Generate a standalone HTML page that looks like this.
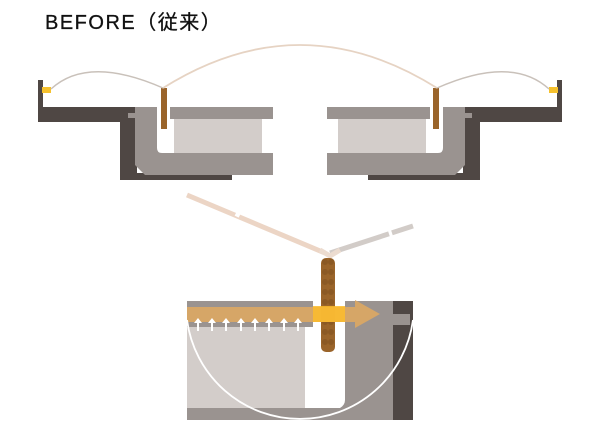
<!DOCTYPE html>
<html><head><meta charset="utf-8"><style>
html,body{margin:0;padding:0;background:#fff;width:600px;height:435px;overflow:hidden}
.t{position:absolute;left:45px;top:6px;font:20px "Liberation Sans","Noto Sans CJK JP",sans-serif;color:#111;letter-spacing:1.5px;-webkit-text-stroke:0.3px #111}
</style></head><body>
<div class="t">BEFORE（従来）</div>
<svg width="600" height="435" style="position:absolute;left:0;top:0">
<defs>
<g id="half">
  <rect x="38" y="80" width="5" height="42" fill="#4f4744"/>
  <rect x="38" y="107" width="99" height="15" fill="#4f4744"/>
  <rect x="120" y="107" width="17" height="73" fill="#4f4744"/>
  <rect x="120" y="173" width="112" height="7" fill="#4f4744"/>
  <rect x="42" y="87" width="9" height="6" fill="#f5c12e"/>
  <rect x="128" y="113" width="8" height="5" fill="#9a9390"/>
  <path d="M135 107 H157 V148 Q157 153 162 153 H273 V175 H145 L135 165 Z" fill="#9a9390"/>
  <rect x="170" y="107" width="103" height="12" fill="#9a9390"/>
  <rect x="174" y="119" width="88" height="34" fill="#d3cdca"/>
  <rect x="161" y="88" width="6" height="41" fill="#9a642a"/>
  <path d="M51 89 Q88 55 163 88" fill="none" stroke="#c9c1ba" stroke-width="1.5"/>
</g>
</defs>
<use href="#half"/>
<use href="#half" transform="translate(600,0) scale(-1,1)"/>
<path d="M163 88 Q300 2 437 88" fill="none" stroke="#e6d3c3" stroke-width="1.8"/>

<rect x="187" y="408" width="226" height="12" fill="#9a9390"/>
<rect x="187" y="327" width="118" height="81" fill="#d3cdca"/>
<rect x="187" y="301" width="126" height="26" fill="#9a9390"/>
<path d="M345 301 H393 V408 H340 Q345 405 345 400 Z" fill="#9a9390"/>
<rect x="393" y="301" width="20" height="119" fill="#4f4744"/>
<rect x="393" y="314" width="17" height="11" fill="#9a9390"/>
<path d="M187 195 L325 253" stroke="#ecd5c5" stroke-width="5" fill="none"/>
<path d="M236 213 L240 215" stroke="#fff" stroke-width="6"/>
<path d="M330 253 L413 226" stroke="#d2ccc8" stroke-width="5" fill="none"/>
<path d="M389 234 L392 233" stroke="#fff" stroke-width="6"/>
<path d="M320 250 L330 256 L340 250" stroke="#ecdcd0" stroke-width="5" fill="none"/>
<rect x="321" y="258" width="14" height="94" rx="5" fill="#9a642a"/>
<g fill="#7d5020" opacity="0.5">
<circle cx="325" cy="262" r="3"/><circle cx="331" cy="262" r="3"/>
<circle cx="325" cy="272" r="3"/><circle cx="331" cy="272" r="3"/>
<circle cx="325" cy="282" r="3"/><circle cx="331" cy="282" r="3"/>
<circle cx="325" cy="292" r="3"/><circle cx="331" cy="292" r="3"/>
<circle cx="325" cy="302" r="3"/><circle cx="331" cy="302" r="3"/>
<circle cx="325" cy="312" r="3"/><circle cx="331" cy="312" r="3"/>
<circle cx="325" cy="322" r="3"/><circle cx="331" cy="322" r="3"/>
<circle cx="325" cy="332" r="3"/><circle cx="331" cy="332" r="3"/>
<circle cx="325" cy="342" r="3"/><circle cx="331" cy="342" r="3"/>
</g>
<path d="M187 307 H355 V300 L380 314 L355 328 V322 H187 Z" fill="#d9a765" opacity="0.95"/>
<rect x="313" y="306" width="32" height="16" fill="#fbbb2a" opacity="0.85"/>
<g fill="#fff">
<path d="M198 318 l-4 5 h3 v8 h2 v-8 h3 z"/><path d="M212 318 l-4 5 h3 v8 h2 v-8 h3 z"/>
<path d="M226 318 l-4 5 h3 v8 h2 v-8 h3 z"/><path d="M241 318 l-4 5 h3 v8 h2 v-8 h3 z"/>
<path d="M255 318 l-4 5 h3 v8 h2 v-8 h3 z"/><path d="M269 318 l-4 5 h3 v8 h2 v-8 h3 z"/>
<path d="M284 318 l-4 5 h3 v8 h2 v-8 h3 z"/><path d="M298 318 l-4 5 h3 v8 h2 v-8 h3 z"/>
</g>
<path d="M187 320 A114 114 0 0 0 413 320" fill="none" stroke="#fff" stroke-width="1.8"/>
</svg>
</body></html>
